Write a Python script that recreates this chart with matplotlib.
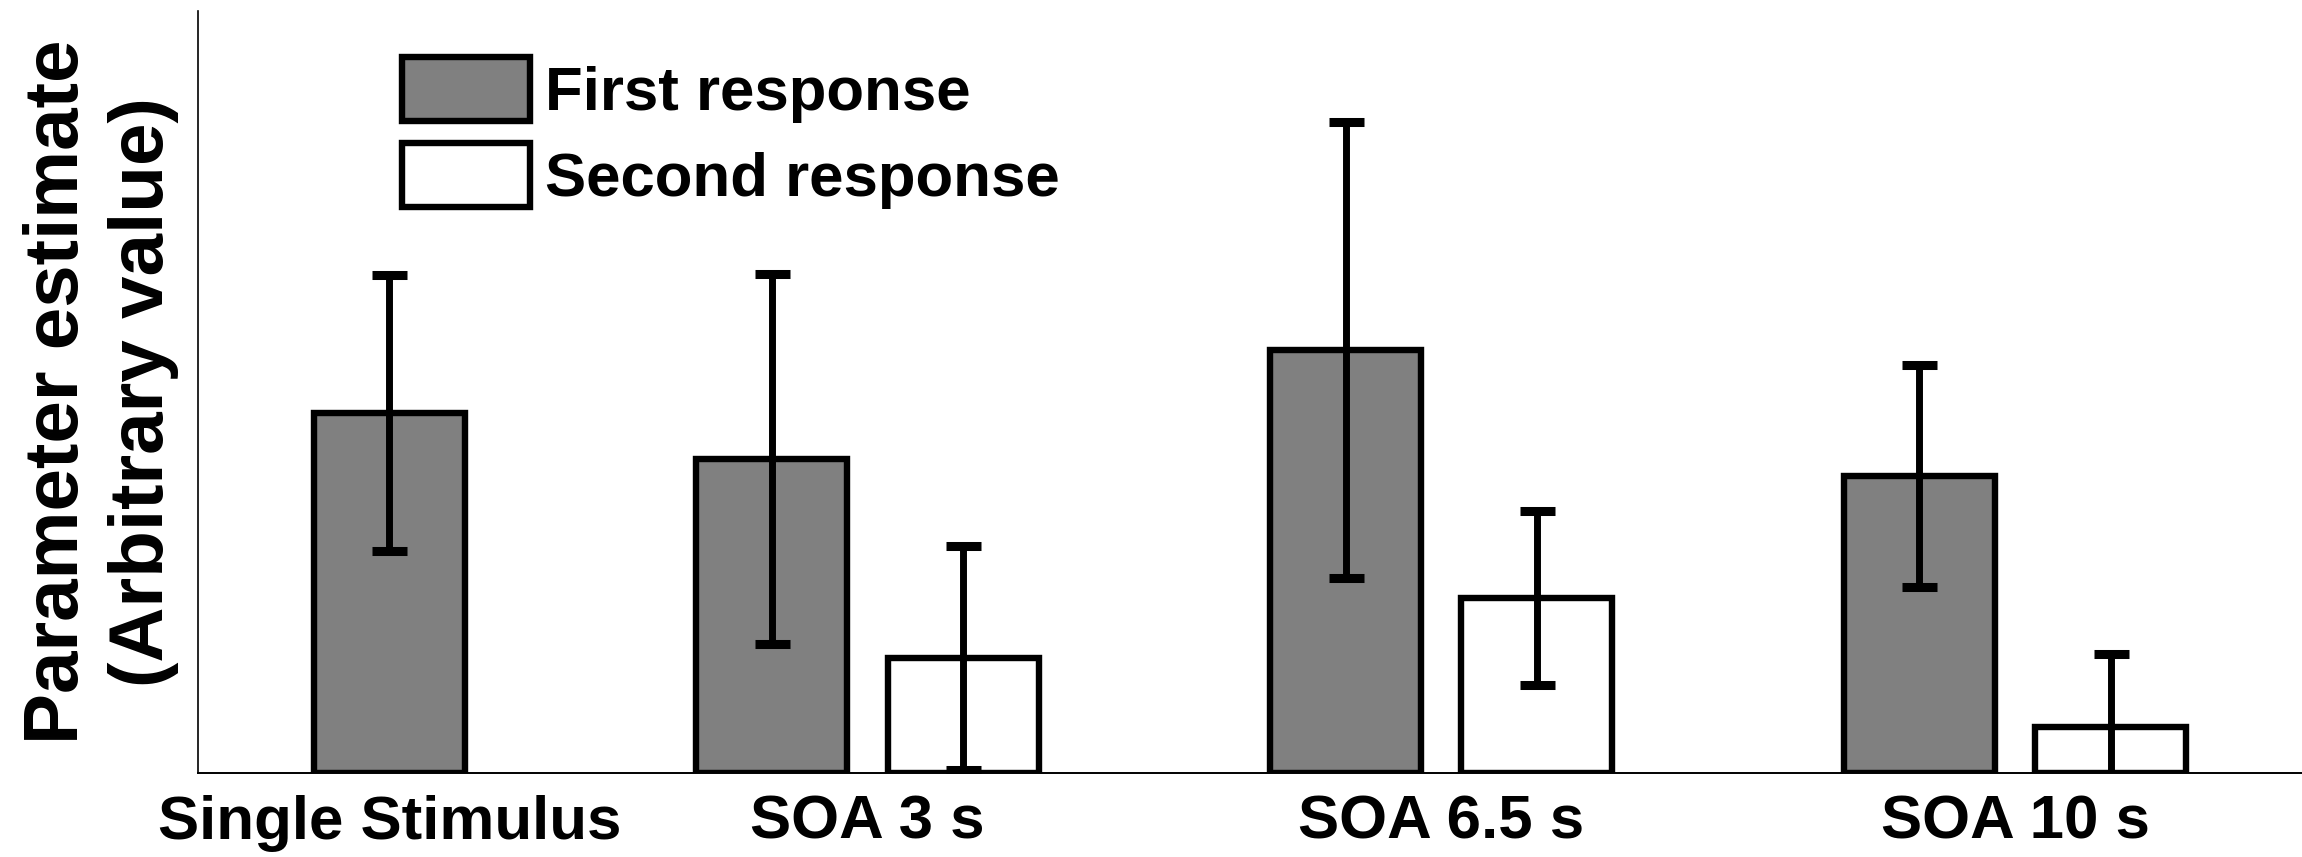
import matplotlib
matplotlib.use("Agg")
import matplotlib.pyplot as plt
import numpy as np

plt.rcParams['font.family'] = ['Liberation Sans', 'DejaVu Sans']
plt.rcParams['font.weight'] = 'bold'

# Condition labels and bar values (arbitrary units)
conditions = ["Single Stimulus", "SOA 3 s", "SOA 6.5 s", "SOA 10 s"]
first_response = [3.60, 3.14, 4.23, 2.97]
first_error = [1.38, 1.85, 2.28, 1.11]
second_response = [1.15, 1.75, 0.46]
second_error = [1.12, 0.87, 0.73]
series_labels = ["First response", "Second response"]

# Bar positions: single stimulus alone, then pairs per SOA
first_pos = np.array([0, 2, 5, 8])
second_pos = first_pos[1:] + 1
tick_pos = [0, 2.5, 5.5, 8.5]

fig = plt.figure(figsize=(23.02, 8.57), dpi=100)
ax = fig.add_axes([198 / 2302, 1 - 773 / 857, 1 - 198 / 2302, (773 - 11) / 857])

bar_w = 0.79
edge_lw = 4.6
err_kw = dict(fmt='none', ecolor='black', elinewidth=5.0, capsize=12.6,
              capthick=6.5, zorder=5)

b1 = ax.bar(first_pos, first_response, width=bar_w, color='#808080',
            edgecolor='black', linewidth=edge_lw, zorder=3,
            label=series_labels[0])
b2 = ax.bar(second_pos, second_response, width=bar_w, color='white',
            edgecolor='black', linewidth=edge_lw, zorder=3,
            label=series_labels[1])
ax.errorbar(first_pos, first_response, yerr=first_error, **err_kw)
ax.errorbar(second_pos, second_response, yerr=second_error, **err_kw)

ax.set_xlim(-1, 10)
ax.set_ylim(0, 7.62)

ax.spines['top'].set_visible(False)
ax.spines['right'].set_visible(False)
ax.spines['left'].set_linewidth(1.2)
ax.spines['bottom'].set_linewidth(1.4)

ax.set_yticks([])
ax.set_xticks(tick_pos)
ax.set_xticklabels(conditions, fontsize=44.5, fontweight='bold')
ax.tick_params(axis='x', length=0, pad=15.5)

ax.set_ylabel("Parameter estimate\n(Arbitrary value)", fontsize=55,
              fontweight='bold', labelpad=14, linespacing=1.25)

fig.legend(handles=[b1, b2], labels=series_labels, loc='upper left',
           bbox_to_anchor=(402 / 2302, 1 - 57 / 857), frameon=False,
           handlelength=2.07, handleheight=1.22, handletextpad=0.25,
           labelspacing=0.32, borderpad=0, borderaxespad=0,
           prop={'size': 44.5, 'weight': 'bold'})

fig.savefig("out.png", dpi=100)
